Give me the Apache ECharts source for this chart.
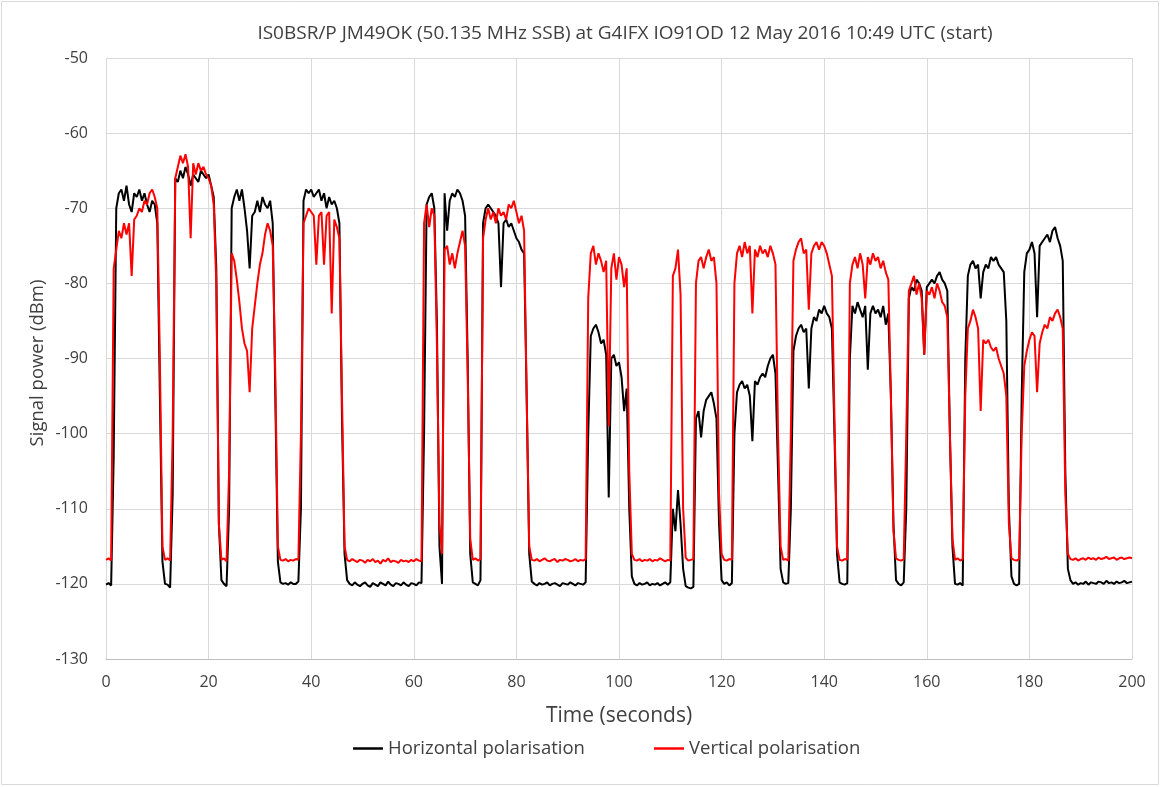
<!DOCTYPE html>
<html>
<head>
<meta charset="utf-8">
<script src="https://cdn.jsdelivr.net/npm/echarts@6/dist/echarts.min.js"></script>
<style>
html,body{margin:0;padding:0;background:#fff;}
#chart{width:1161px;height:787px;}
</style>
</head>
<body>
<div id="chart"></div>
<script>
// Sample spacing of readings (seconds)
const sampleStep = 0.5;

// Horizontal polarisation (dBm), one reading every 0.5 s from 0 to 200 s
const horizontal = [
-120.1,-119.9,-120.2,-103,-70,-68,-67.5,-69,-67,-69.5,-70.5,-68,-68.5,-67.5,-69,-68,-69.5,-70.5,-69,-69.5,
-72,-95,-117,-120,-120.1,-120.5,-108,-66,-66.5,-65,-66,-64.5,-65.5,-67,-65.5,-66,-66.5,-65,-65.5,-66,
-65.5,-67,-68.5,-78,-112,-119.5,-120,-120.3,-110,-70,-68.5,-67.5,-69,-67.5,-70,-73,-78,-71,-70.5,-69,
-70.5,-68.5,-69.5,-70,-69,-72,-95,-117,-119.8,-120,-119.9,-120.1,-119.8,-120,-120,-119.7,-110,-69,-67.5,-68,
-67.5,-68.5,-68,-67.5,-69,-68,-70,-68.5,-69.5,-69,-70,-72,-98,-116,-119.5,-120,-120.2,-119.8,-120.1,-120.3,
-120,-119.8,-120.2,-120.4,-119.9,-120.1,-120.3,-119.8,-120,-120.2,-119.7,-120.1,-120.3,-119.9,-120,-120.2,-119.8,-120.1,-120.3,-119.9,
-120,-120.2,-119.8,-119.9,-100,-69.5,-68.5,-68,-70,-85,-115,-120,-68,-73,-69,-68,-68.5,-67.5,-68,-69,
-71,-90,-116,-119.8,-120,-120.2,-119.5,-72,-70,-69.5,-70,-70.5,-71,-72,-80.5,-72,-71.5,-72.5,-72,-73,
-74,-74.5,-75.5,-76,-95,-116,-119.7,-120,-120.2,-119.9,-120.1,-120,-119.8,-120.2,-120,-119.9,-120.1,-120.3,-119.9,-120,
-120.1,-119.8,-120,-120.2,-119.9,-120,-120.1,-119.8,-100,-87,-86,-85.5,-86.5,-88,-87.5,-89.5,-108.5,-90,-89.5,-91,
-90.5,-92.5,-97,-94,-110,-119,-120,-120.2,-119.9,-120.1,-120,-119.8,-120.2,-120,-120.1,-119.9,-120.2,-120,-119.8,-120.1,
-119.8,-110,-113,-107.5,-112,-118,-120.3,-120.5,-120.6,-120.4,-98,-97,-100.5,-97,-95.5,-95,-94.5,-96,-98,-112,
-119.5,-120,-119.8,-120.2,-119.9,-100,-94.5,-93.5,-93,-94,-93.5,-95,-101,-93,-93.5,-92.5,-92,-92.5,-91,-90,
-89.5,-92,-105,-118,-119.8,-120,-119.9,-110,-89,-87,-86,-85.5,-86.5,-86,-94,-86,-84.5,-85,-83.5,-84,
-83,-84,-84.5,-86,-100,-116,-119.8,-120,-120.1,-119.9,-90,-83,-84,-82.5,-83.5,-84.5,-83,-91.5,-84,-83,
-84,-83.5,-84.5,-83,-85.5,-84,-95,-112,-119.5,-120,-120.2,-119.8,-110,-82,-80.5,-81,-79.5,-80,-81,-89.5,
-80.5,-80,-79.5,-80,-79,-78.5,-79.5,-80,-81,-100,-115,-120,-120.1,-119.9,-120.2,-90,-79,-77.5,-77,-78,
-77.5,-82,-78.5,-77.5,-78,-76.5,-77,-76.5,-77.5,-78,-78.5,-85,-110,-119,-120,-120.2,-120,-95,-78.5,-76,
-75.5,-74.5,-76,-84.5,-75,-74.5,-74,-73.5,-74.5,-73,-72.5,-74,-75,-77,-105,-118,-119.5,-120,-119.8,-120.1,
-119.9,-120,-119.7,-120.1,-119.8,-119.9,-120,-119.7,-119.8,-120,-119.6,-119.9,-119.8,-120,-119.7,-119.9,-119.8,-119.6,-119.9,-119.8,
-119.7
];

// Vertical polarisation (dBm), one reading every 0.5 s from 0 to 200 s
const vertical = [
-116.8,-116.6,-116.9,-78,-75.5,-73,-74,-72,-73.5,-72,-79,-71.5,-71,-70,-70.5,-69,-69.5,-68,-67.5,-68.5,
-70,-90,-115,-116.8,-116.6,-116.9,-100,-66,-64.5,-63,-64,-62.8,-64.5,-74,-64,-65.5,-64,-65,-64.5,-65.5,
-66,-67,-69.5,-80,-112,-116.8,-116.6,-117,-105,-76,-77,-79.5,-82.5,-86,-88,-89,-94.5,-86,-83,-80,
-77.5,-76,-73.5,-72,-73,-75,-92,-115,-116.8,-116.9,-116.7,-117,-116.8,-116.9,-116.7,-116.8,-100,-72,-71,-70,
-70.5,-71,-77.5,-71,-70.5,-77.5,-71,-70.5,-84,-71.5,-72.5,-74,-95,-115,-116.8,-117,-116.7,-116.9,-117.1,-116.8,
-116.9,-117.2,-116.8,-117,-116.7,-117.1,-116.9,-117.3,-116.8,-117,-116.6,-117.1,-116.9,-117,-117.2,-116.8,-117,-116.9,-117.1,-116.8,
-117,-116.7,-116.9,-117,-72,-69.5,-72.5,-70,-71,-88,-112,-116,-75.5,-75,-77.5,-76,-78,-76,-74.5,-73,
-75,-92,-114,-116.8,-116.6,-116.9,-116.7,-74,-71.5,-70,-71.5,-70.5,-72,-70,-71,-70.5,-71.5,-69.5,-70,-69,
-70.5,-72,-71,-73,-95,-115,-116.8,-116.9,-116.7,-117,-116.8,-116.6,-116.9,-117,-116.8,-116.7,-117.1,-116.8,-116.9,-116.7,
-116.8,-117,-116.9,-116.7,-117,-116.8,-116.9,-116.7,-82,-76,-75,-77.5,-76,-77,-78.5,-77,-99,-78,-76,-79.5,
-76.5,-77.5,-80.5,-78,-105,-116,-116.8,-116.9,-116.7,-117,-116.8,-116.9,-116.7,-117,-116.8,-116.9,-116.6,-116.8,-117,-116.8,
-116.9,-79,-78,-75.5,-81.5,-110,-116.5,-116.9,-116.8,-116.7,-80,-77,-76.5,-78,-76.5,-75.5,-77,-76.5,-80,-108,
-116,-116.8,-116.9,-116.7,-116.8,-80,-76,-75,-76.5,-74.5,-76,-75,-84,-75.5,-76.5,-75,-76,-75.5,-76.5,-75,
-76,-77.5,-100,-115,-116.8,-116.7,-116.9,-100,-77,-75.5,-74.5,-74,-76,-75.5,-83.5,-76,-75,-74.5,-75.5,-74.5,
-75,-76,-77.5,-79,-98,-115,-116.8,-116.9,-116.7,-116.8,-80,-77.5,-76.5,-78,-76,-77.5,-82,-76.5,-77.5,-76,
-77,-76.5,-78,-77,-78.5,-79.5,-95,-113,-116.6,-116.8,-116.9,-116.7,-100,-81,-80,-79,-81.5,-80,-82,-89.5,
-81,-81.5,-80.5,-82,-80,-81,-82.5,-83,-84.5,-100,-114,-116.8,-116.6,-116.9,-116.7,-95,-86,-85,-83.5,-84.5,
-86,-97,-87.5,-88,-87.5,-88.5,-89,-88.5,-90,-91,-92,-95,-112,-116.6,-116.8,-116.9,-116.7,-100,-91,-89,
-87.5,-86.5,-87,-94.5,-88,-86.5,-85.5,-86,-84.5,-85,-84,-83.5,-84.5,-86,-108,-116,-116.7,-116.8,-116.6,-116.9,
-116.7,-116.6,-116.8,-116.5,-116.7,-116.6,-116.8,-116.5,-116.7,-116.6,-116.4,-116.7,-116.6,-116.5,-116.8,-116.6,-116.5,-116.7,-116.6,-116.5,
-116.6
];

const titleText = 'IS0BSR/P JM49OK (50.135 MHz SSB) at G4IFX IO91OD 12 May 2016 10:49 UTC (start)';
const seriesNames = ['Horizontal polarisation', 'Vertical polarisation'];
const xAxisName = 'Time (seconds)';
const yAxisName = 'Signal power (dBm)';
const xTicks = {min: 0, max: 200, interval: 20};
const yTicks = {min: -130, max: -50, interval: 10};

const toPairs = arr => arr.map((v, i) => [i * sampleStep, v]);

const FONT = "'Open Sans', 'Liberation Sans', sans-serif";
const TXT = '#404040';

const chart = echarts.init(document.getElementById('chart'), null, {renderer: 'canvas'});
chart.setOption({
  animation: false,
  backgroundColor: '#ffffff',
  title: {
    text: titleText,
    left: 620, top: 19, textAlign: 'center',
    textStyle: {fontFamily: FONT, fontSize: 19, fontWeight: 'normal', color: TXT}
  },
  graphic: [
    {
      type: 'rect', silent: true,
      shape: {x: 1.5, y: 1.5, width: 1157, height: 783},
      style: {fill: 'none', stroke: '#d9d9d9', lineWidth: 1}
    },
    {
      type: 'text', silent: true,
      x: 38, y: 363, rotation: Math.PI / 2,
      style: {text: yAxisName, fontFamily: FONT, fontSize: 18.5, fill: TXT, align: 'center', verticalAlign: 'middle'}
    }
  ],
  legend: [
    {data: [seriesNames[0]], left: 348, top: 734, itemWidth: 30, itemHeight: 2.5, icon: 'rect',
     textStyle: {fontFamily: FONT, fontSize: 18.5, color: TXT}},
    {data: [seriesNames[1]], left: 649, top: 734, itemWidth: 30, itemHeight: 2.5, icon: 'rect',
     textStyle: {fontFamily: FONT, fontSize: 18.5, color: TXT}}
  ],
  grid: {left: 106, right: 29, top: 58, bottom: 128, containLabel: false},
  xAxis: {
    type: 'value', min: xTicks.min, max: xTicks.max, interval: xTicks.interval,
    name: xAxisName, nameLocation: 'middle', nameGap: 47,
    nameTextStyle: {fontFamily: FONT, fontSize: 21, color: TXT},
    axisLine: {show: true, lineStyle: {color: '#bfbfbf', width: 1}},
    axisTick: {show: false},
    axisLabel: {fontFamily: FONT, fontSize: 16, color: TXT, margin: 15},
    splitLine: {show: true, lineStyle: {color: '#d9d9d9', width: 1}}
  },
  yAxis: {
    type: 'value', min: yTicks.min, max: yTicks.max, interval: yTicks.interval,
    axisLine: {show: false},
    axisTick: {show: false},
    axisLabel: {fontFamily: FONT, fontSize: 16, color: TXT, margin: 18},
    splitLine: {show: true, lineStyle: {color: '#d9d9d9', width: 1}}
  },
  series: [
    {name: seriesNames[0], type: 'line', data: toPairs(horizontal), showSymbol: false, symbol: 'none',
     lineStyle: {color: '#000000', width: 2}, itemStyle: {color: '#000000'}, z: 2},
    {name: seriesNames[1], type: 'line', data: toPairs(vertical), showSymbol: false, symbol: 'none',
     lineStyle: {color: '#ff0000', width: 2}, itemStyle: {color: '#ff0000'}, z: 3}
  ]
});
</script>
</body>
</html>
